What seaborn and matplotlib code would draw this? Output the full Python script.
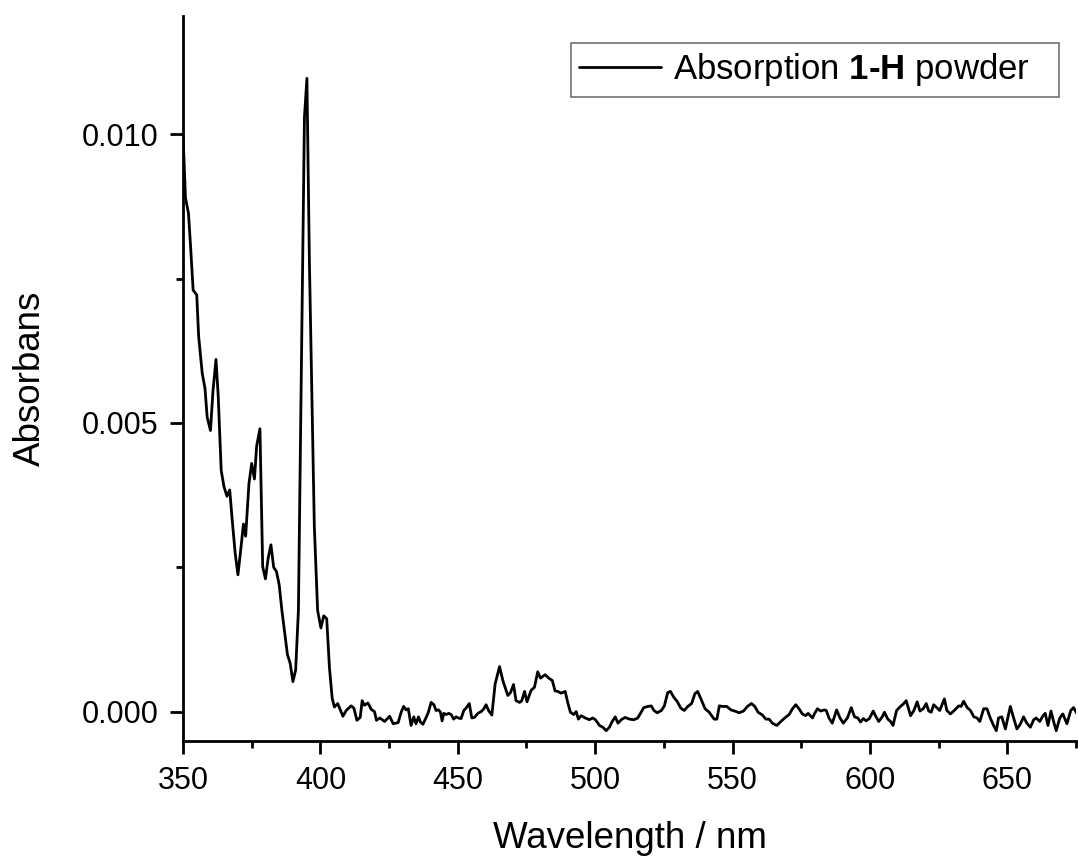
import matplotlib
matplotlib.use("Agg")
import matplotlib.pyplot as plt
from matplotlib.ticker import MultipleLocator
from matplotlib.offsetbox import DrawingArea
import seaborn as sns
import pandas as pd

wavelength = [
    350.0, 350.9, 352.0, 352.7, 353.7, 355.0, 355.7, 357.0, 358.0, 358.8,
    360.0, 360.9, 362.0, 362.8, 363.9, 364.9, 366.0, 367.0, 368.0, 369.0,
    370.0, 371.0, 372.0, 372.8, 374.0, 375.0, 376.0, 376.8, 378.0, 379.0,
    380.0, 381.0, 382.0, 383.0, 384.0, 385.0, 386.0, 387.0, 388.0, 389.0,
    390.0, 391.0, 392.0, 394.2, 395.1, 396.0, 397.0, 397.8, 399.0, 400.2,
    401.2, 402.3, 403.3, 404.3, 405.1, 406.3, 408.2, 409.4, 411.2, 412.2,
    413.3, 414.5, 415.2, 416.0, 417.3, 418.5, 419.7, 420.4, 421.6, 423.4,
    425.2, 426.5, 428.3,
    429.4, 430.3, 431.2, 432.0, 433.0, 434.0, 434.8, 435.7, 436.4, 437.3,
    438.5, 439.3, 440.3, 441.3, 442.1, 443.0, 443.7, 444.3, 444.9, 445.8,
    446.7, 447.6, 448.5, 449.4, 450.2, 451.2, 452.2, 453.0, 454.2, 455.1,
    456.1, 457.3, 458.5, 459.5, 460.3, 461.2, 462.4, 463.6, 465.2, 466.4,
    468.2, 469.2, 470.3, 471.2, 472.5, 473.3, 474.3, 475.2, 476.7, 477.9,
    479.1, 480.1, 481.8, 483.1, 484.4, 485.4, 486.4, 487.6, 489.1, 490.0,
    491.0, 492.2, 493.1, 493.9, 494.9, 496.4, 497.9, 499.1, 500.1, 501.6,
    502.8, 504.0, 505.2, 506.1, 507.3, 508.3, 509.5, 510.9, 512.5, 514.1,
    515.5, 516.7, 517.7, 519.2, 520.4, 521.4, 522.6, 524.1, 525.2, 526.4,
    527.4, 528.6, 529.8,
    531.2, 532.4, 533.7, 535.1, 536.3, 537.3, 538.5, 540.0, 541.5, 543.3,
    544.3, 545.2, 546.4, 547.9, 549.4, 550.8, 552.4, 554.0, 555.4, 556.9,
    558.1, 559.3, 560.9, 562.1, 563.3, 564.5, 566.1, 567.6, 569.0, 570.6,
    571.8, 573.0, 574.2, 575.4, 576.6, 577.5, 579.1, 579.9, 580.9, 582.1,
    583.3, 584.1, 585.1, 586.3, 587.9, 589.1, 590.3, 591.8, 593.2, 594.4,
    595.6, 596.6, 597.6, 598.6, 599.8, 601.2, 602.0, 603.2, 604.5, 605.3,
    606.5, 607.5, 608.4, 609.7, 611.1, 612.1, 613.2, 614.8, 616.0, 617.2,
    618.2, 619.4, 620.5, 621.4, 622.3, 623.2, 624.5, 625.4, 627.1, 628.0,
    629.3, 630.7, 632.3, 633.2, 634.1, 635.4, 636.6, 637.8, 639.0, 640.0,
    641.4, 642.6, 643.8, 645.0, 646.0, 646.8, 648.0, 649.3, 651.1, 652.3,
    653.5, 654.7, 655.9, 657.1, 658.4, 659.6, 660.5, 661.8, 663.0, 663.8,
    664.8, 665.9, 666.9, 667.8, 669.1, 670.2, 671.7, 673.1, 674.1, 675.3,
]

absorbance = [
    0.0100, 0.0089, 0.00863, 0.0081, 0.0073, 0.00722, 0.0065, 0.00586, 0.0056, 0.0051,
    0.00487, 0.00555, 0.0061, 0.00548, 0.00418, 0.0039, 0.00373, 0.00384, 0.00327, 0.00274,
    0.00237, 0.0028, 0.00325, 0.00304, 0.00395, 0.0043, 0.00403, 0.0046, 0.0049, 0.00251,
    0.0023, 0.00266, 0.00289, 0.0025, 0.00243, 0.0022, 0.00175, 0.00137, 0.00099, 0.00084,
    0.00052, 0.00072, 0.00175, 0.0103, 0.01097, 0.0078, 0.0052, 0.0032, 0.00175, 0.00145,
    0.00166, 0.00161, 0.00076, 0.00023, 0.00008, 0.00014, -0.00008, 0.00002, 0.0001, 0.00006,
    -0.00015, -0.0001, 0.00019, 0.00011, 0.00015, 0.00004, 0.0, -0.00015, -0.00011, -0.00017,
    -0.00008, -0.00021, -0.00019,
    -0.00001, 0.00009, 0.00003, 0.00005, -0.00024, -0.00009, -0.00021, -0.00009, -0.00018, -0.00022,
    -0.0001, -0.00001, 0.00016, 0.00012, 0.00002, 0.00003, -0.00001, -0.00016, -0.00003, -0.00005,
    -0.00003, -0.00005, -0.00013, -0.00009, -0.00011, -0.00012, 0.00002, 0.00006, 0.00014, -0.00011,
    -0.0001, -0.00003, 0.0, 0.00005, 0.00012, 0.00002, -0.00006, 0.00048, 0.00078, 0.00054,
    0.00028, 0.00033, 0.00047, 0.00019, 0.00016, 0.00019, 0.00035, 0.00017, 0.00037, 0.00042,
    0.00069, 0.00058, 0.00064, 0.00058, 0.00054, 0.00036, 0.00035, 0.00032, 0.00035, 0.00016,
    -0.00001, -0.00005, 0.0, -0.00013, -0.00007, -0.00011, -0.00014, -0.00011, -0.00014, -0.00024,
    -0.00027, -0.00033, -0.00027, -0.00018, -0.00009, -0.0002, -0.00014, -0.0001, -0.00013, -0.00014,
    -0.00011, -0.00001, 0.00007, 0.00009, 0.0001, 0.00002, -0.00002, 0.00002, 0.0001, 0.00033,
    0.00035, 0.00025, 0.00018,
    0.00006, 0.00002, 0.00009, 0.00014, 0.00031, 0.00035, 0.00022, 0.00005, -0.00001, -0.00013,
    -0.00013, 0.0001, 0.00009, 0.00009, 0.00003, 0.00001, -0.00002, 0.00001, 0.00009, 0.00014,
    0.00009, -0.00001, -0.00006, -0.00013, -0.00013, -0.0002, -0.00024, -0.00017, -0.00011, -0.00005,
    0.00005, 0.00012, 0.00005, -0.00004, -0.00007, -0.00003, -0.00011, -0.00003, 0.00005, 0.00001,
    0.00003, 0.00002, -0.00011, -0.0002, 0.00003, -0.00011, -0.0002, -0.00011, 0.00007, -0.00009,
    -0.00011, -0.00018, -0.00012, -0.00016, -0.00012, 0.00001, -0.00007, -0.00017, -0.00009, -0.00001,
    -0.00013, -0.00017, -0.00024, 0.00002, 0.00009, 0.00013, 0.00019, -0.00007, 0.00002, 0.00017,
    0.00001, 0.00005, 0.00014, 0.00001, -0.00001, 0.00012, 0.00006, 0.00002, 0.00022, 0.00002,
    -0.00004, 0.00002, 0.0001, 0.00009, 0.00018, 0.00007, 0.00002, -0.00009, -0.00011, -0.00017,
    0.00005, 0.00005, -0.00011, -0.00024, -0.00033, -0.00011, -0.00009, -0.0003, 0.00009, -0.00011,
    -0.0003, -0.00022, -0.00009, -0.0002, -0.00027, -0.00014, -0.00011, -0.00017, -0.00007, -0.00003,
    -0.00024, 0.00001, -0.00018, -0.00033, -0.00011, -0.00004, -0.00021, 0.00002, 0.00007, -0.00003,
]

x_major = [350, 400, 450, 500, 550, 600, 650]
y_major = [0.000, 0.005, 0.010]
y_tick_labels = ["0.000", "0.005", "0.010"]

sns.set_style("ticks")
plt.rcParams["font.family"] = ["Liberation Sans", "DejaVu Sans"]
plt.rcParams["mathtext.fontset"] = "custom"
plt.rcParams["mathtext.rm"] = "Liberation Sans"
plt.rcParams["mathtext.bf"] = "Liberation Sans:bold"
plt.rcParams["text.color"] = "black"
plt.rcParams["axes.labelcolor"] = "black"
plt.rcParams["xtick.color"] = "black"
plt.rcParams["ytick.color"] = "black"

df = pd.DataFrame({"Wavelength": wavelength, "Absorbance": absorbance})

fig = plt.figure(figsize=(10.78, 8.56), dpi=100)
ax = fig.add_axes([183 / 1078, 1 - 740.5 / 856, (1076 - 183) / 1078, (740.5 - 16) / 856])

sns.lineplot(data=df, x="Wavelength", y="Absorbance", ax=ax, color="black",
             linewidth=2.0, sort=False, estimator=None,
             label="Absorption $\\mathbf{1\u2010H}$ powder")

ax.set_xlim(350, 675)
ax.set_ylim(-0.0005, 0.01205)
ax.set_xticks(x_major)
ax.xaxis.set_minor_locator(MultipleLocator(25))
ax.set_yticks(y_major)
ax.set_yticklabels(y_tick_labels)
ax.yaxis.set_minor_locator(MultipleLocator(0.0025))

for s in ["top", "right"]:
    ax.spines[s].set_visible(False)
for s in ["left", "bottom"]:
    ax.spines[s].set_linewidth(2)
    ax.spines[s].set_color("black")

ax.tick_params(axis="both", which="major", direction="out", length=9.5, width=2,
               labelsize=22, colors="black", labelcolor="black")
ax.tick_params(axis="y", which="major", pad=8)
ax.tick_params(axis="x", which="major", pad=9)
ax.tick_params(axis="both", which="minor", direction="out", length=5, width=2, colors="black")

ax.set_xlabel("Wavelength / nm", fontsize=26.5, labelpad=17.5, color="black")
ax.set_ylabel("Absorbans", fontsize=26.5, labelpad=24.5, color="black")

leg = ax.legend(loc="upper right", bbox_to_anchor=(1059 / 1078, 1 - 42.5 / 856),
                bbox_transform=fig.transFigure, borderaxespad=0, fontsize=25,
                frameon=True, fancybox=False, edgecolor="#404040",
                handlelength=2.35, handletextpad=0.35, borderpad=0.25,
                labelcolor="black")
leg.get_frame().set_linewidth(1.1)
for line in leg.get_lines():
    line.set_linewidth(2.0)

# extra right padding inside the legend box (Origin-style)
try:
    item = leg._legend_handle_box.get_children()[0].get_children()[0]
    item.get_children().append(DrawingArea(6, 1))
except Exception:
    pass

fig.savefig("out.png", dpi=100, facecolor="white")
